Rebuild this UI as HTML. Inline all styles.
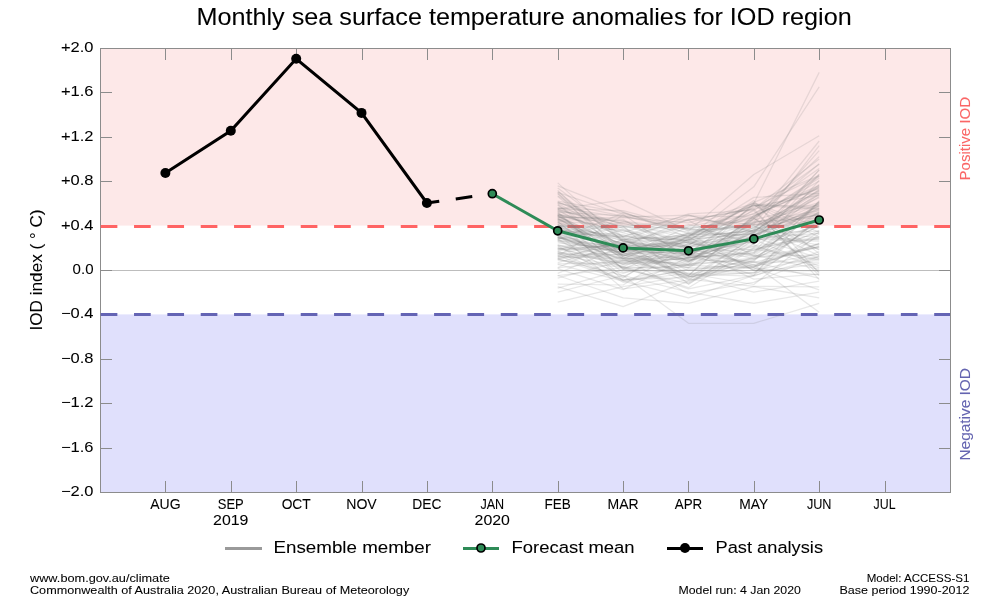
<!DOCTYPE html>
<html><head><meta charset="utf-8"><title>IOD</title>
<style>html,body{margin:0;padding:0;background:#fff;width:1000px;height:600px;overflow:hidden}
svg{display:block;will-change:transform;font-family:"Liberation Sans",sans-serif}</style></head>
<body>
<svg width="1000" height="600" viewBox="0 0 1000 600" font-family="Liberation Sans, sans-serif">
<rect x="0" y="0" width="1000" height="600" fill="#ffffff"/>
<rect x="100" y="48" width="850" height="177.60" fill="#fde8e8"/>
<rect x="100" y="314.40" width="850" height="177.60" fill="#e0e0fc"/>
<line x1="100" y1="270.5" x2="950" y2="270.5" stroke="#bdbdbd" stroke-width="1"/>
<rect x="100.5" y="48.5" width="850" height="444" fill="none" stroke="#8c8c8c" stroke-width="1"/>
<path d="M101,48.5h11M950,48.5h-11M101,92.5h11M950,92.5h-11M101,137.5h11M950,137.5h-11M101,181.5h11M950,181.5h-11M101,226.5h11M950,226.5h-11M101,270.5h11M950,270.5h-11M101,314.5h11M950,314.5h-11M101,359.5h11M950,359.5h-11M101,403.5h11M950,403.5h-11M101,448.5h11M950,448.5h-11M101,492.5h11M950,492.5h-11M165.5,49v11M165.5,492v-11M231.5,49v11M231.5,492v-11M296.5,49v11M296.5,492v-11M362.5,49v11M362.5,492v-11M427.5,49v11M427.5,492v-11M492.5,49v11M492.5,492v-11M558.5,49v11M558.5,492v-11M623.5,49v11M623.5,492v-11M688.5,49v11M688.5,492v-11M754.5,49v11M754.5,492v-11M819.5,49v11M819.5,492v-11M885.5,49v11M885.5,492v-11" stroke="#8c8c8c" stroke-width="1" fill="none"/>
<line x1="100.7" y1="226.5" x2="950" y2="226.5" stroke="#ff6464" stroke-width="3" stroke-dasharray="16.67 16.67"/>
<line x1="100.7" y1="314.5" x2="950" y2="314.5" stroke="#6464b4" stroke-width="3" stroke-dasharray="16.67 16.67"/>
<g fill="none" stroke="#808080" stroke-opacity="0.185" stroke-width="1.25" stroke-linejoin="round">
<polyline points="557.7,222.7 623.1,248.2 688.5,259.3 753.8,262.4 819.2,246.7"/>
<polyline points="557.7,207.9 623.1,223.5 688.5,235.9 753.8,223.2 819.2,204.3"/>
<polyline points="557.7,230.1 623.1,237.0 688.5,240.0 753.8,267.6 819.2,289.9"/>
<polyline points="557.7,249.0 623.1,249.7 688.5,254.7 753.8,229.8 819.2,238.1"/>
<polyline points="557.7,218.6 623.1,256.2 688.5,226.6 753.8,214.2 819.2,168.5"/>
<polyline points="557.7,251.8 623.1,263.6 688.5,261.8 753.8,232.4 819.2,208.9"/>
<polyline points="557.7,254.6 623.1,266.7 688.5,239.3 753.8,250.6 819.2,223.5"/>
<polyline points="557.7,256.5 623.1,258.8 688.5,232.9 753.8,270.7 819.2,256.6"/>
<polyline points="557.7,248.2 623.1,245.6 688.5,252.8 753.8,269.4 819.2,219.8"/>
<polyline points="557.7,202.9 623.1,216.2 688.5,230.5 753.8,225.8 819.2,255.5"/>
<polyline points="557.7,236.9 623.1,259.9 688.5,276.7 753.8,272.7 819.2,263.7"/>
<polyline points="557.7,258.7 623.1,280.1 688.5,264.7 753.8,216.3 819.2,186.0"/>
<polyline points="557.7,288.2 623.1,269.7 688.5,272.8 753.8,273.4 819.2,217.4"/>
<polyline points="557.7,213.6 623.1,235.9 688.5,240.8 753.8,202.4 819.2,175.5"/>
<polyline points="557.7,211.7 623.1,269.4 688.5,239.5 753.8,213.4 819.2,185.3"/>
<polyline points="557.7,262.6 623.1,245.2 688.5,280.3 753.8,260.2 819.2,203.0"/>
<polyline points="557.7,208.8 623.1,230.7 688.5,247.9 753.8,230.8 819.2,194.8"/>
<polyline points="557.7,204.4 623.1,250.0 688.5,261.4 753.8,222.6 819.2,210.6"/>
<polyline points="557.7,219.9 623.1,220.5 688.5,247.5 753.8,264.7 819.2,246.1"/>
<polyline points="557.7,239.1 623.1,227.0 688.5,261.6 753.8,218.5 819.2,249.9"/>
<polyline points="557.7,226.0 623.1,227.2 688.5,228.2 753.8,220.0 819.2,202.6"/>
<polyline points="557.7,216.2 623.1,244.9 688.5,247.1 753.8,225.2 819.2,214.9"/>
<polyline points="557.7,208.5 623.1,210.6 688.5,228.0 753.8,238.0 819.2,233.4"/>
<polyline points="557.7,209.6 623.1,246.3 688.5,245.6 753.8,200.6 819.2,273.3"/>
<polyline points="557.7,237.6 623.1,242.2 688.5,246.5 753.8,246.9 819.2,205.0"/>
<polyline points="557.7,239.4 623.1,213.1 688.5,229.1 753.8,241.2 819.2,226.6"/>
<polyline points="557.7,234.1 623.1,288.8 688.5,280.0 753.8,237.2 819.2,258.1"/>
<polyline points="557.7,209.4 623.1,226.5 688.5,220.4 753.8,256.0 819.2,247.0"/>
<polyline points="557.7,221.2 623.1,226.0 688.5,284.4 753.8,239.5 819.2,266.1"/>
<polyline points="557.7,253.7 623.1,254.6 688.5,233.8 753.8,234.8 819.2,213.7"/>
<polyline points="557.7,218.9 623.1,244.1 688.5,225.7 753.8,205.6 819.2,206.2"/>
<polyline points="557.7,225.7 623.1,230.1 688.5,249.5 753.8,237.4 819.2,196.5"/>
<polyline points="557.7,212.9 623.1,269.1 688.5,283.6 753.8,247.5 819.2,259.1"/>
<polyline points="557.7,267.6 623.1,239.4 688.5,236.1 753.8,202.8 819.2,227.3"/>
<polyline points="557.7,253.4 623.1,242.4 688.5,224.5 753.8,244.3 819.2,174.6"/>
<polyline points="557.7,223.8 623.1,276.9 688.5,243.2 753.8,239.0 819.2,241.2"/>
<polyline points="557.7,217.1 623.1,219.4 688.5,256.8 753.8,219.1 819.2,163.8"/>
<polyline points="557.7,218.3 623.1,258.0 688.5,238.2 753.8,230.1 819.2,213.3"/>
<polyline points="557.7,220.9 623.1,280.6 688.5,273.5 753.8,284.5 819.2,233.9"/>
<polyline points="557.7,241.0 623.1,252.0 688.5,239.8 753.8,233.0 819.2,174.1"/>
<polyline points="557.7,207.3 623.1,217.2 688.5,215.2 753.8,231.4 819.2,186.5"/>
<polyline points="557.7,268.6 623.1,289.7 688.5,257.0 753.8,266.6 819.2,243.5"/>
<polyline points="557.7,232.8 623.1,261.1 688.5,253.6 753.8,205.9 819.2,195.4"/>
<polyline points="557.7,203.4 623.1,239.2 688.5,270.7 753.8,261.3 819.2,201.5"/>
<polyline points="557.7,259.5 623.1,239.7 688.5,235.1 753.8,231.7 819.2,189.4"/>
<polyline points="557.7,252.6 623.1,279.7 688.5,277.5 753.8,237.7 819.2,239.6"/>
<polyline points="557.7,255.4 623.1,280.3 688.5,270.1 753.8,272.5 819.2,236.2"/>
<polyline points="557.7,247.8 623.1,266.3 688.5,287.7 753.8,248.4 819.2,238.6"/>
<polyline points="557.7,268.0 623.1,260.3 688.5,265.8 753.8,231.1 819.2,191.5"/>
<polyline points="557.7,215.4 623.1,221.3 688.5,228.6 753.8,217.7 819.2,271.9"/>
<polyline points="557.7,195.7 623.1,237.4 688.5,257.8 753.8,204.2 819.2,253.4"/>
<polyline points="557.7,182.9 623.1,241.6 688.5,237.9 753.8,197.4 819.2,193.3"/>
<polyline points="557.7,204.9 623.1,255.3 688.5,258.3 753.8,238.6 819.2,192.7"/>
<polyline points="557.7,234.8 623.1,267.9 688.5,267.3 753.8,229.3 819.2,214.4"/>
<polyline points="557.7,256.2 623.1,215.0 688.5,220.0 753.8,208.8 819.2,279.6"/>
<polyline points="557.7,212.1 623.1,215.8 688.5,229.5 753.8,228.6 819.2,197.6"/>
<polyline points="557.7,229.4 623.1,240.0 688.5,262.7 753.8,217.4 819.2,156.6"/>
<polyline points="557.7,258.4 623.1,254.1 688.5,251.7 753.8,249.0 819.2,260.4"/>
<polyline points="557.7,190.4 623.1,252.7 688.5,275.4 753.8,218.7 819.2,176.5"/>
<polyline points="557.7,196.4 623.1,249.2 688.5,249.1 753.8,279.1 819.2,274.1"/>
<polyline points="557.7,220.2 623.1,258.4 688.5,259.6 753.8,235.5 819.2,205.7"/>
<polyline points="557.7,219.3 623.1,248.9 688.5,239.1 753.8,233.7 819.2,245.0"/>
<polyline points="557.7,237.3 623.1,253.1 688.5,251.4 753.8,242.0 819.2,219.0"/>
<polyline points="557.7,257.6 623.1,251.4 688.5,234.7 753.8,221.6 819.2,218.0"/>
<polyline points="557.7,245.8 623.1,282.3 688.5,268.8 753.8,267.3 819.2,220.8"/>
<polyline points="557.7,284.1 623.1,285.0 688.5,244.8 753.8,245.1 819.2,267.8"/>
<polyline points="557.7,228.1 623.1,236.1 688.5,245.4 753.8,207.3 819.2,176.1"/>
<polyline points="557.7,217.7 623.1,217.7 688.5,222.9 753.8,203.5 819.2,232.2"/>
<polyline points="557.7,215.9 623.1,247.5 688.5,233.2 753.8,217.9 819.2,178.2"/>
<polyline points="557.7,185.9 623.1,211.9 688.5,237.4 753.8,230.4 819.2,145.6"/>
<polyline points="557.7,214.0 623.1,225.8 688.5,243.0 753.8,258.8 819.2,230.5"/>
<polyline points="557.7,202.4 623.1,224.8 688.5,241.7 753.8,215.9 819.2,187.4"/>
<polyline points="557.7,227.6 623.1,251.2 688.5,242.4 753.8,256.3 819.2,255.0"/>
<polyline points="557.7,260.2 623.1,267.3 688.5,288.9 753.8,275.3 819.2,231.8"/>
<polyline points="557.7,226.2 623.1,250.5 688.5,275.8 753.8,215.4 819.2,188.0"/>
<polyline points="557.7,238.1 623.1,254.4 688.5,282.6 753.8,243.8 819.2,193.8"/>
<polyline points="557.7,250.8 623.1,243.4 688.5,279.1 753.8,286.4 819.2,286.9"/>
<polyline points="557.7,263.9 623.1,262.5 688.5,254.4 753.8,227.4 819.2,190.8"/>
<polyline points="557.7,193.2 623.1,257.1 688.5,265.2 753.8,268.0 819.2,274.8"/>
<polyline points="557.7,231.4 623.1,237.8 688.5,274.2 753.8,276.2 819.2,251.5"/>
<polyline points="557.7,240.1 623.1,252.9 688.5,267.8 753.8,235.2 819.2,206.8"/>
<polyline points="557.7,245.3 623.1,258.2 688.5,293.7 753.8,282.4 819.2,256.1"/>
<polyline points="557.7,242.8 623.1,249.5 688.5,274.9 753.8,258.4 819.2,247.6"/>
<polyline points="557.7,211.0 623.1,240.3 688.5,264.9 753.8,250.2 819.2,233.0"/>
<polyline points="557.7,214.9 623.1,256.6 688.5,277.1 753.8,262.0 819.2,262.2"/>
<polyline points="557.7,244.6 623.1,263.2 688.5,258.0 753.8,233.2 819.2,231.1"/>
<polyline points="557.7,210.7 623.1,223.3 688.5,238.5 753.8,210.8 819.2,275.5"/>
<polyline points="557.7,233.1 623.1,236.5 688.5,213.8 753.8,210.4 819.2,164.3"/>
<polyline points="557.7,201.8 623.1,228.7 688.5,246.8 753.8,226.3 819.2,249.3"/>
<polyline points="557.7,240.4 623.1,246.7 688.5,219.1 753.8,224.4 819.2,212.6"/>
<polyline points="557.7,216.9 623.1,259.1 688.5,252.1 753.8,227.7 819.2,190.3"/>
<polyline points="557.7,201.2 623.1,212.7 688.5,233.6 753.8,224.7 819.2,227.7"/>
<polyline points="557.7,230.4 623.1,234.5 688.5,256.1 753.8,255.8 819.2,211.9"/>
<polyline points="557.7,215.6 623.1,255.6 688.5,241.9 753.8,236.5 819.2,210.0"/>
<polyline points="557.7,193.7 623.1,240.6 688.5,215.9 753.8,217.0 819.2,181.1"/>
<polyline points="557.7,238.9 623.1,278.0 688.5,235.6 753.8,205.0 819.2,237.2"/>
<polyline points="557.7,273.3 623.1,245.8 688.5,260.4 753.8,246.3 819.2,237.7"/>
<polyline points="557.7,254.0 623.1,257.8 688.5,278.6 753.8,257.0 819.2,226.0"/>
<polyline points="557.7,230.7 623.1,264.7 688.5,257.6 753.8,252.6 819.2,180.4"/>
<polyline points="557.7,224.6 623.1,254.9 688.5,267.5 753.8,266.2 819.2,254.0"/>
<polyline points="557.7,215.1 623.1,232.1 688.5,215.0 753.8,232.7 819.2,218.4"/>
<polyline points="557.7,241.3 623.1,262.1 688.5,255.7 753.8,240.7 819.2,208.1"/>
<polyline points="557.7,225.4 623.1,243.7 688.5,237.1 753.8,270.2 819.2,270.8"/>
<polyline points="557.7,251.4 623.1,273.3 688.5,253.3 753.8,254.0 819.2,214.0"/>
<polyline points="557.7,214.4 623.1,232.8 688.5,248.4 753.8,265.6 819.2,243.2"/>
<polyline points="557.7,236.6 623.1,252.4 688.5,241.5 753.8,252.3 819.2,211.5"/>
<polyline points="557.7,222.5 623.1,240.9 688.5,252.5 753.8,209.5 819.2,189.0"/>
<polyline points="557.7,235.4 623.1,250.3 688.5,254.0 753.8,275.1 819.2,200.7"/>
<polyline points="557.7,257.0 623.1,243.9 688.5,253.8 753.8,232.1 819.2,203.8"/>
<polyline points="557.7,250.1 623.1,229.5 688.5,254.9 753.8,261.8 819.2,278.4"/>
<polyline points="557.7,236.1 623.1,222.2 688.5,232.1 753.8,224.0 819.2,150.6"/>
<polyline points="557.7,249.4 623.1,245.4 688.5,242.7 753.8,255.2 819.2,269.3"/>
<polyline points="557.7,222.1 623.1,268.3 688.5,265.4 753.8,257.8 819.2,222.3"/>
<polyline points="557.7,233.5 623.1,256.4 688.5,236.8 753.8,205.3 819.2,209.3"/>
<polyline points="557.7,237.9 623.1,248.7 688.5,240.3 753.8,203.9 819.2,208.4"/>
<polyline points="557.7,227.4 623.1,272.2 688.5,263.8 753.8,259.7 819.2,225.6"/>
<polyline points="557.7,275.6 623.1,267.7 688.5,257.3 753.8,253.6 819.2,202.1"/>
<polyline points="557.7,246.1 623.1,244.5 688.5,276.3 753.8,267.0 819.2,244.2"/>
<polyline points="557.7,224.9 623.1,238.5 688.5,261.2 753.8,240.4 819.2,169.9"/>
<polyline points="557.7,191.7 623.1,241.9 688.5,250.3 753.8,236.8 819.2,184.5"/>
<polyline points="557.7,278.1 623.1,260.6 688.5,244.1 753.8,222.1 819.2,141.0"/>
<polyline points="557.7,236.7 623.1,258.9 688.5,264.4 753.8,203.4 819.2,72.4"/>
<polyline points="557.7,247.8 623.1,264.4 688.5,236.7 753.8,186.8 819.2,86.9"/>
<polyline points="557.7,258.9 623.1,275.5 688.5,323.3 753.8,323.3 819.2,303.3"/>
<polyline points="557.7,208.9 623.1,200.1 688.5,231.1 753.8,174.5 819.2,135.7"/>
<polyline points="557.7,302.2 623.1,286.6 688.5,275.5 753.8,292.2 819.2,281.1"/>
<polyline points="557.7,286.6 623.1,306.6 688.5,281.1 753.8,264.4 819.2,312.2"/>
<polyline points="557.7,275.5 623.1,297.8 688.5,303.3 753.8,286.6 819.2,297.8"/>
<polyline points="557.7,264.4 623.1,281.1 688.5,297.8 753.8,275.5 819.2,258.9"/>
<polyline points="557.7,292.2 623.1,275.5 688.5,292.2 753.8,303.3 819.2,292.2"/>
<polyline points="557.7,187.9 623.1,236.7 688.5,220.1 753.8,208.9 819.2,159.0"/>
<polyline points="557.7,192.3 623.1,214.5 688.5,258.9 753.8,236.7 819.2,170.1"/>
</g>
<polyline points="165.4,173.0 230.8,130.8 296.2,58.8 361.5,112.9 426.9,203.0" fill="none" stroke="#000" stroke-width="3" stroke-linejoin="miter"/>
<line x1="426.9" y1="203" x2="492.3" y2="193.7" stroke="#000" stroke-width="3" stroke-dasharray="16.67 16.67" stroke-dashoffset="4.2"/>
<circle cx="165.4" cy="173.0" r="5" fill="#000"/>
<circle cx="230.8" cy="130.75" r="5" fill="#000"/>
<circle cx="296.2" cy="58.75" r="5" fill="#000"/>
<circle cx="361.5" cy="112.9" r="5" fill="#000"/>
<circle cx="426.9" cy="203.0" r="5" fill="#000"/>
<polyline points="492.3,193.7 557.7,230.8 623.1,247.9 688.5,250.8 753.8,238.9 819.2,220.0" fill="none" stroke="#2e8b57" stroke-width="3"/>
<circle cx="492.3" cy="193.7" r="4.0" fill="#2e8b57" stroke="#000" stroke-width="1.7"/>
<circle cx="557.7" cy="230.8" r="4.0" fill="#2e8b57" stroke="#000" stroke-width="1.7"/>
<circle cx="623.1" cy="247.9" r="4.0" fill="#2e8b57" stroke="#000" stroke-width="1.7"/>
<circle cx="688.5" cy="250.8" r="4.0" fill="#2e8b57" stroke="#000" stroke-width="1.7"/>
<circle cx="753.8" cy="238.9" r="4.0" fill="#2e8b57" stroke="#000" stroke-width="1.7"/>
<circle cx="819.2" cy="220.0" r="4.0" fill="#2e8b57" stroke="#000" stroke-width="1.7"/>
<text x="196.5" y="25" font-size="24.0" text-anchor="start" fill="#000" stroke="#000" stroke-width="0.06" textLength="655.15" lengthAdjust="spacingAndGlyphs" >Monthly sea surface temperature anomalies for IOD region</text>
<text x="93.5" y="51.5" font-size="14.17" text-anchor="end" fill="#000" stroke="#000" stroke-width="0.06" textLength="32.529999999999994" lengthAdjust="spacingAndGlyphs" >+2.0</text>
<text x="93.5" y="95.5" font-size="14.17" text-anchor="end" fill="#000" stroke="#000" stroke-width="0.06" textLength="32.529999999999994" lengthAdjust="spacingAndGlyphs" >+1.6</text>
<text x="93.5" y="140.5" font-size="14.17" text-anchor="end" fill="#000" stroke="#000" stroke-width="0.06" textLength="32.529999999999994" lengthAdjust="spacingAndGlyphs" >+1.2</text>
<text x="93.5" y="184.5" font-size="14.17" text-anchor="end" fill="#000" stroke="#000" stroke-width="0.06" textLength="32.529999999999994" lengthAdjust="spacingAndGlyphs" >+0.8</text>
<text x="93.5" y="229.5" font-size="14.17" text-anchor="end" fill="#000" stroke="#000" stroke-width="0.06" textLength="32.529999999999994" lengthAdjust="spacingAndGlyphs" >+0.4</text>
<text x="93.5" y="273.5" font-size="14.17" text-anchor="end" fill="#000" stroke="#000" stroke-width="0.06" textLength="20.89" lengthAdjust="spacingAndGlyphs" >0.0</text>
<text x="93.5" y="317.5" font-size="14.17" text-anchor="end" fill="#000" stroke="#000" stroke-width="0.06" textLength="32.529999999999994" lengthAdjust="spacingAndGlyphs" >−0.4</text>
<text x="93.5" y="362.5" font-size="14.17" text-anchor="end" fill="#000" stroke="#000" stroke-width="0.06" textLength="32.529999999999994" lengthAdjust="spacingAndGlyphs" >−0.8</text>
<text x="93.5" y="406.5" font-size="14.17" text-anchor="end" fill="#000" stroke="#000" stroke-width="0.06" textLength="32.529999999999994" lengthAdjust="spacingAndGlyphs" >−1.2</text>
<text x="93.5" y="451.5" font-size="14.17" text-anchor="end" fill="#000" stroke="#000" stroke-width="0.06" textLength="32.529999999999994" lengthAdjust="spacingAndGlyphs" >−1.6</text>
<text x="93.5" y="495.5" font-size="14.17" text-anchor="end" fill="#000" stroke="#000" stroke-width="0.06" textLength="32.529999999999994" lengthAdjust="spacingAndGlyphs" >−2.0</text>
<text x="165.4" y="509" font-size="14.17" text-anchor="middle" fill="#000" stroke="#000" stroke-width="0.06" textLength="30.43" lengthAdjust="spacingAndGlyphs" >AUG</text>
<text x="230.8" y="509" font-size="14.17" text-anchor="middle" fill="#000" stroke="#000" stroke-width="0.06" textLength="25.97" lengthAdjust="spacingAndGlyphs" >SEP</text>
<text x="296.2" y="509" font-size="14.17" text-anchor="middle" fill="#000" stroke="#000" stroke-width="0.06" textLength="29.12" lengthAdjust="spacingAndGlyphs" >OCT</text>
<text x="361.5" y="509" font-size="14.17" text-anchor="middle" fill="#000" stroke="#000" stroke-width="0.06" textLength="30.58" lengthAdjust="spacingAndGlyphs" >NOV</text>
<text x="426.9" y="509" font-size="14.17" text-anchor="middle" fill="#000" stroke="#000" stroke-width="0.06" textLength="29.17" lengthAdjust="spacingAndGlyphs" >DEC</text>
<text x="492.3" y="509" font-size="14.17" text-anchor="middle" fill="#000" stroke="#000" stroke-width="0.06" textLength="23.74" lengthAdjust="spacingAndGlyphs" >JAN</text>
<text x="557.7" y="509" font-size="14.17" text-anchor="middle" fill="#000" stroke="#000" stroke-width="0.06" textLength="26.29" lengthAdjust="spacingAndGlyphs" >FEB</text>
<text x="623.1" y="509" font-size="14.17" text-anchor="middle" fill="#000" stroke="#000" stroke-width="0.06" textLength="31.13" lengthAdjust="spacingAndGlyphs" >MAR</text>
<text x="688.5" y="509" font-size="14.17" text-anchor="middle" fill="#000" stroke="#000" stroke-width="0.06" textLength="27.53" lengthAdjust="spacingAndGlyphs" >APR</text>
<text x="753.8" y="509" font-size="14.17" text-anchor="middle" fill="#000" stroke="#000" stroke-width="0.06" textLength="28.89" lengthAdjust="spacingAndGlyphs" >MAY</text>
<text x="819.2" y="509" font-size="14.17" text-anchor="middle" fill="#000" stroke="#000" stroke-width="0.06" textLength="24.65" lengthAdjust="spacingAndGlyphs" >JUN</text>
<text x="884.6" y="509" font-size="14.17" text-anchor="middle" fill="#000" stroke="#000" stroke-width="0.06" textLength="22.0" lengthAdjust="spacingAndGlyphs" >JUL</text>
<text x="230.8" y="525" font-size="14.17" text-anchor="middle" fill="#000" stroke="#000" stroke-width="0.06" textLength="35.34" lengthAdjust="spacingAndGlyphs" >2019</text>
<text x="492.3" y="525" font-size="14.17" text-anchor="middle" fill="#000" stroke="#000" stroke-width="0.06" textLength="35.34" lengthAdjust="spacingAndGlyphs" >2020</text>
<text transform="translate(41.8,330.5) rotate(-90)" x="0" y="0" font-size="16.67" fill="#000" stroke="#000" stroke-width="0.06" textLength="121" lengthAdjust="spacingAndGlyphs">IOD index ( <tspan font-size="16">°</tspan> C)</text>
<text transform="translate(969.9,180.5) rotate(-90)" x="0" y="0" font-size="14.17" fill="#fa6666" stroke="#fa6666" stroke-width="0.06" textLength="83.68" lengthAdjust="spacingAndGlyphs">Positive IOD</text>
<text transform="translate(969.8,460.5) rotate(-90)" x="0" y="0" font-size="14.17" fill="#6464b0" stroke="#6464b0" stroke-width="0.06" textLength="92.47" lengthAdjust="spacingAndGlyphs">Negative IOD</text>
<line x1="225" y1="548.5" x2="262" y2="548.5" stroke="#9a9a9a" stroke-width="3"/>
<text x="273.5" y="553" font-size="17.00" text-anchor="start" fill="#000" stroke="#000" stroke-width="0.06" textLength="157.46" lengthAdjust="spacingAndGlyphs" >Ensemble member</text>
<line x1="463" y1="548.5" x2="499" y2="548.5" stroke="#2e8b57" stroke-width="3"/>
<circle cx="481" cy="548" r="4.0" fill="#2e8b57" stroke="#000" stroke-width="1.7"/>
<text x="511.5" y="553" font-size="17.00" text-anchor="start" fill="#000" stroke="#000" stroke-width="0.06" textLength="123.1" lengthAdjust="spacingAndGlyphs" >Forecast mean</text>
<line x1="667" y1="548.5" x2="703" y2="548.5" stroke="#000" stroke-width="3"/>
<circle cx="685" cy="548" r="5" fill="#000"/>
<text x="715.5" y="553" font-size="17.00" text-anchor="start" fill="#000" stroke="#000" stroke-width="0.06" textLength="107.52" lengthAdjust="spacingAndGlyphs" >Past analysis</text>
<text x="30" y="582" font-size="11.33" text-anchor="start" fill="#000" stroke="#000" stroke-width="0.06" textLength="139.75" lengthAdjust="spacingAndGlyphs" >www.bom.gov.au/climate</text>
<text x="30" y="594" font-size="11.33" text-anchor="start" fill="#000" stroke="#000" stroke-width="0.06" textLength="379.21" lengthAdjust="spacingAndGlyphs" >Commonwealth of Australia 2020, Australian Bureau of Meteorology</text>
<text x="678.5" y="594" font-size="11.33" text-anchor="start" fill="#000" stroke="#000" stroke-width="0.06" textLength="122.34" lengthAdjust="spacingAndGlyphs" >Model run: 4 Jan 2020</text>
<text x="969.5" y="582" font-size="11.33" text-anchor="end" fill="#000" stroke="#000" stroke-width="0.06" textLength="102.8" lengthAdjust="spacingAndGlyphs" >Model: ACCESS-S1</text>
<text x="969.5" y="594" font-size="11.33" text-anchor="end" fill="#000" stroke="#000" stroke-width="0.06" textLength="130.06" lengthAdjust="spacingAndGlyphs" >Base period 1990-2012</text>
</svg>
</body></html>
